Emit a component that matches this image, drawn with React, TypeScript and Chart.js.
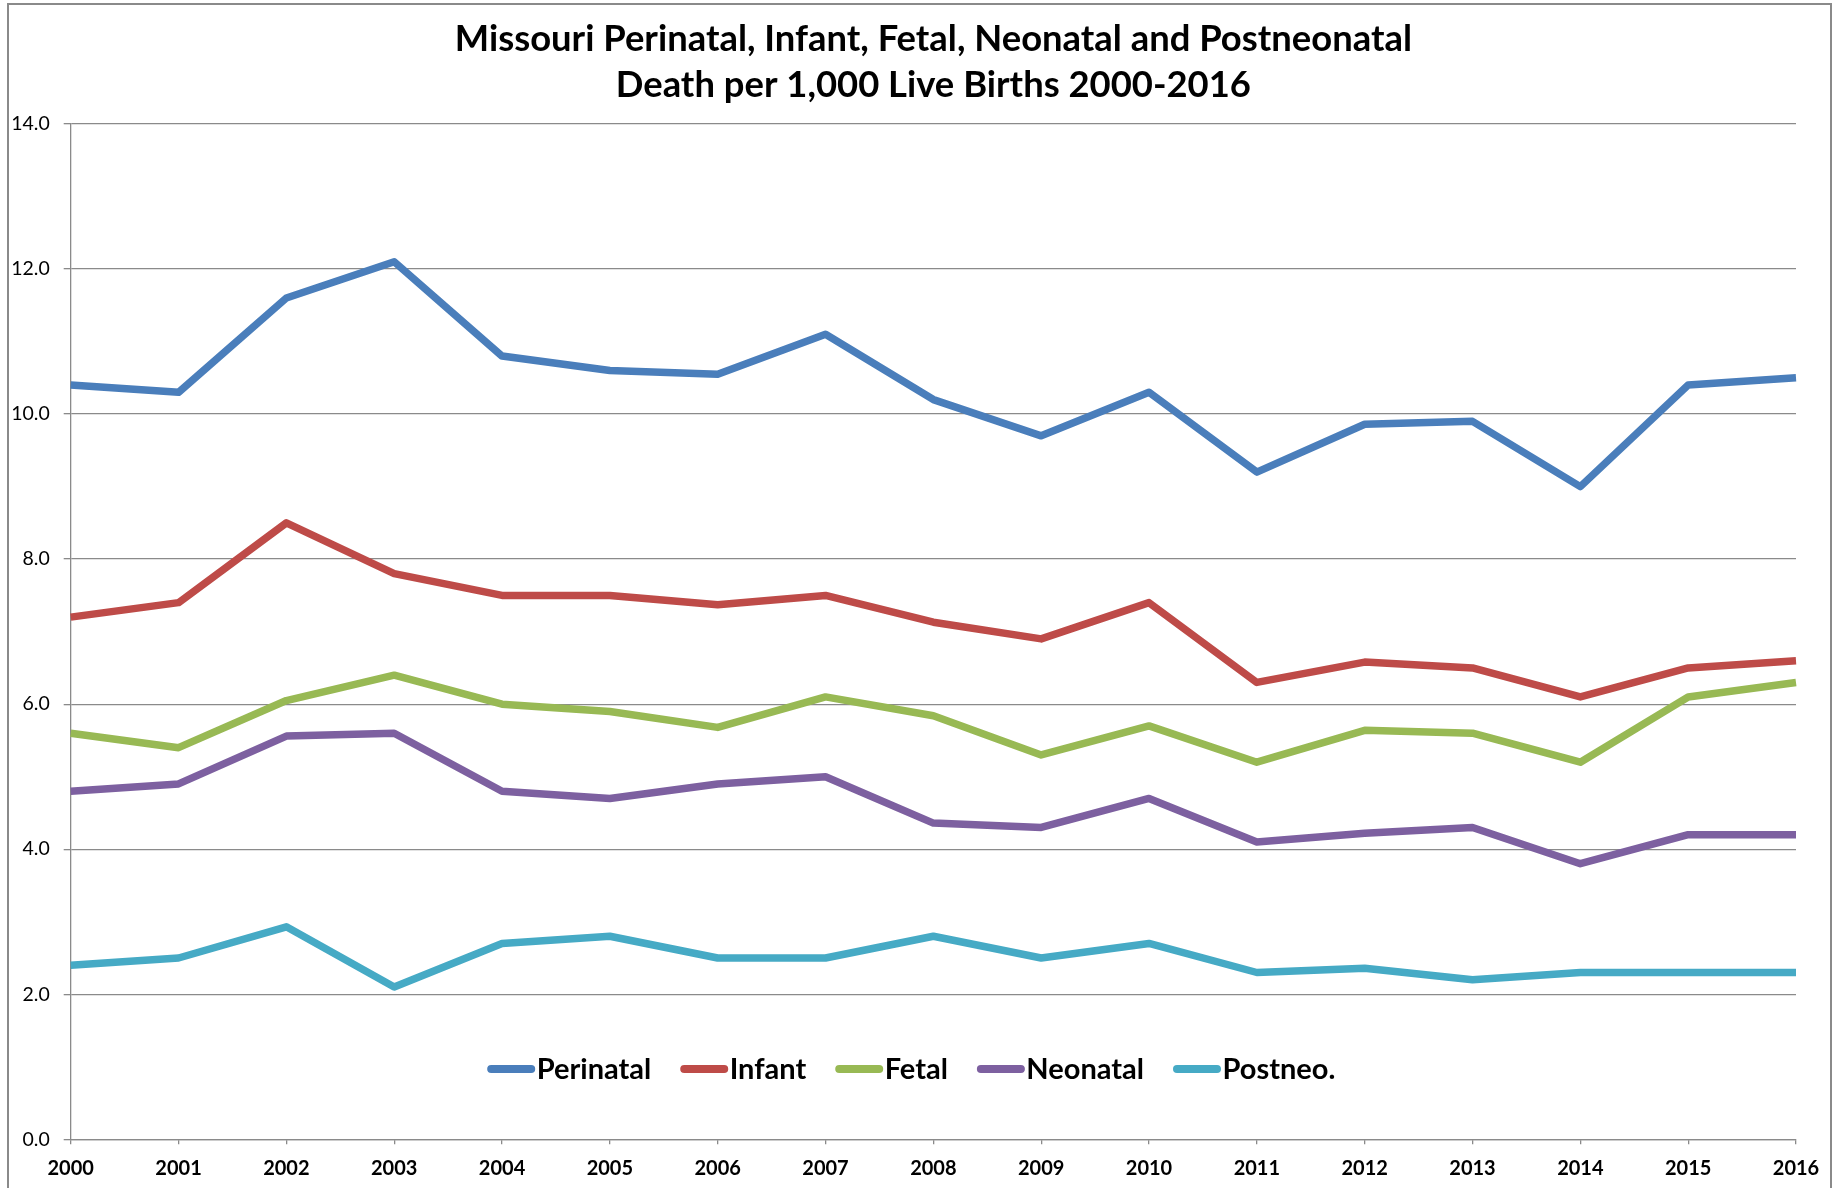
import React, { useEffect, useRef } from 'react';
import { Chart, registerables } from 'chart.js';

Chart.register(...registerables);

// ---------- data ----------
const years = ['2000', '2001', '2002', '2003', '2004', '2005', '2006', '2007', '2008', '2009', '2010', '2011', '2012', '2013', '2014', '2015', '2016'];
const seriesLabels = ['Perinatal', 'Infant', 'Fetal', 'Neonatal', 'Postneo.'];
const perinatal = [10.4, 10.3, 11.6, 12.1, 10.8, 10.6, 10.55, 11.1, 10.2, 9.7, 10.3, 9.2, 9.86, 9.9, 9.0, 10.4, 10.5];
const infant = [7.2, 7.4, 8.5, 7.8, 7.5, 7.5, 7.37, 7.5, 7.13, 6.9, 7.4, 6.3, 6.58, 6.5, 6.1, 6.5, 6.6];
const fetal = [5.6, 5.4, 6.05, 6.4, 6.0, 5.9, 5.68, 6.1, 5.84, 5.3, 5.7, 5.2, 5.64, 5.6, 5.2, 6.1, 6.3];
const neonatal = [4.8, 4.9, 5.56, 5.6, 4.8, 4.7, 4.9, 5.0, 4.36, 4.3, 4.7, 4.1, 4.22, 4.3, 3.8, 4.2, 4.2];
const postneo = [2.4, 2.5, 2.93, 2.1, 2.7, 2.8, 2.5, 2.5, 2.8, 2.5, 2.7, 2.3, 2.36, 2.2, 2.3, 2.3, 2.3];
const yMin = 0;
const yMax = 14;
const yStep = 2;
const titleLines = ['Missouri Perinatal, Infant, Fetal, Neonatal and Postneonatal', 'Death per 1,000 Live Births 2000-2016'];

// ---------- styles ----------
const colors = ['#4A7EBB', '#BE4B48', '#98B954', '#7D60A0', '#46AAC5'];
const FONT = 'Lato, "Open Sans", sans-serif';
const GRID = '#8a8a8a';

const overlayLegend = {
  id: 'overlayLegend',
  afterDatasetsDraw(chart: any) {
    const { ctx, chartArea } = chart;
    const datasets = chart.data.datasets;
    ctx.save();
    ctx.font = `bold 29px ${FONT}`;
    ctx.textAlign = 'left';
    ctx.textBaseline = 'alphabetic';
    const markerY = chartArea.bottom - 70.3;
    const baseY = chartArea.bottom - 60.5;
    let x = chartArea.left + 416.5;
    const markerLen = 48;
    for (let i = 0; i < datasets.length; i++) {
      const ds = datasets[i];
      ctx.strokeStyle = ds.borderColor;
      ctx.lineWidth = 8;
      ctx.lineCap = 'round';
      ctx.beginPath();
      ctx.moveTo(x + 4, markerY);
      ctx.lineTo(x + markerLen - 4, markerY);
      ctx.stroke();
      x += markerLen + 1.5;
      ctx.fillStyle = '#000';
      ctx.fillText(ds.label, x, baseY);
      x += ctx.measureText(ds.label).width + 29;
    }
    ctx.restore();
  },
};

export default function App() {
  const canvasRef = useRef<HTMLCanvasElement | null>(null);

  useEffect(() => {
    if (!canvasRef.current) return;
    const seriesData = [perinatal, infant, fetal, neonatal, postneo];
    const chart = new Chart(canvasRef.current, {
      type: 'line',
      data: {
        labels: years,
        datasets: seriesLabels.map((label, i) => ({
          label,
          data: seriesData[i],
          borderColor: colors[i],
          backgroundColor: colors[i],
          borderWidth: 7.5,
          pointRadius: 0,
          pointHoverRadius: 0,
          tension: 0,
          fill: false,
          borderJoinStyle: 'round' as const,
          borderCapStyle: 'butt' as const,
        })),
      },
      options: {
        responsive: false,
        maintainAspectRatio: false,
        animation: false,
        devicePixelRatio: 1,
        layout: { padding: { left: 0, right: 47, top: 0, bottom: 0 } },
        plugins: {
          legend: { display: false },
          tooltip: { enabled: false },
          title: {
            display: true,
            text: titleLines,
            color: '#000',
            fullSize: false,
            font: { family: FONT, size: 36.4, weight: 'bold', lineHeight: '46px' },
            padding: { top: 16, bottom: 16 },
          },
        },
        scales: {
          x: {
            type: 'category',
            offset: false,
            afterFit(scale: any) {
              scale.height = 48.7;
            },
            grid: {
              display: true,
              drawOnChartArea: false,
              drawTicks: true,
              tickLength: 5,
              color: GRID,
              lineWidth: 1.3,
            },
            border: { display: true, color: GRID, width: 1.3 },
            ticks: {
              color: '#000',
              font: { family: FONT, size: 20, weight: 'bold' },
              padding: 12.5,
              maxRotation: 0,
              autoSkip: false,
            },
          },
          y: {
            min: yMin,
            max: yMax,
            afterFit(scale: any) {
              scale.width = 70.7;
            },
            grid: {
              display: true,
              drawTicks: true,
              tickLength: 7,
              color: GRID,
              lineWidth: 1.3,
            },
            border: { display: true, color: GRID, width: 1.3 },
            ticks: {
              stepSize: yStep,
              color: '#000',
              font: { family: FONT, size: 19.5 },
              padding: 14,
              callback: (v: any) => Number(v).toFixed(1),
            },
          },
        },
      },
      plugins: [overlayLegend],
    });
    return () => chart.destroy();
  }, []);

  return (
    <div style={{ position: 'fixed', left: 0, top: 0, width: 1843, height: 1188, background: '#fff', overflow: 'hidden' }}>
      <div
        style={{
          position: 'absolute',
          left: 7,
          top: 3,
          width: 1825,
          height: 1210,
          border: '2px solid #8a8a8a',
          boxSizing: 'border-box',
        }}
      />
      <canvas
        ref={canvasRef}
        width={1843}
        height={1188}
        style={{ position: 'absolute', left: 0, top: 0, width: 1843, height: 1188 }}
      />
    </div>
  );
}
